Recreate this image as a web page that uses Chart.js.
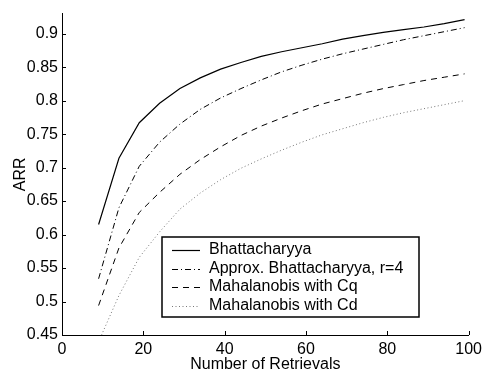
<!DOCTYPE html>
<html>
<head>
<meta charset="utf-8">
<script src="https://cdn.jsdelivr.net/npm/chart.js@4/dist/chart.umd.min.js"></script>
<style>
    body { margin: 0; background: #fff; }
    canvas { display: block; }
</style>
</head>
<body>
<canvas id="arrChart" width="487" height="374"></canvas>
<script>
// 检索数量
const retrievals = [9, 14, 19, 24, 29, 34, 39, 44, 49, 54, 59, 64, 69, 74, 79, 84, 89, 94, 99];

// 各方法的 ARR 值
const bhattacharyya = [0.615, 0.714, 0.767, 0.796, 0.818, 0.834, 0.847, 0.857, 0.866, 0.873, 0.879, 0.885, 0.892, 0.897, 0.902, 0.906, 0.910, 0.915, 0.921];
const approxBhatt = [0.534, 0.640, 0.702, 0.738, 0.765, 0.787, 0.804, 0.818, 0.831, 0.843, 0.853, 0.862, 0.870, 0.877, 0.884, 0.891, 0.897, 0.903, 0.909];
const mahalanobisCq = [0.494, 0.580, 0.633, 0.663, 0.690, 0.712, 0.731, 0.748, 0.762, 0.774, 0.785, 0.795, 0.803, 0.811, 0.818, 0.824, 0.830, 0.835, 0.840];
const mahalanobisCd = [0.440, 0.509, 0.566, 0.604, 0.638, 0.662, 0.682, 0.699, 0.713, 0.726, 0.738, 0.749, 0.758, 0.767, 0.775, 0.782, 0.788, 0.794, 0.800];

// 刻度
const xTicks = [0, 20, 40, 60, 80, 100];
const yTicks = [0.45, 0.5, 0.55, 0.6, 0.65, 0.7, 0.75, 0.8, 0.85, 0.9];

const FONT = "'Liberation Sans', Arial, Helvetica, sans-serif";

function toPoints(values) {
    return retrievals.map((x, i) => ({ x: x, y: values[i] }));
}

// 向内的刻度线
const innerTicks = {
    id: 'innerTicks',
    afterDraw(chart) {
        const ctx = chart.ctx;
        const { left, bottom } = chart.chartArea;
        const xs = chart.scales.x, ys = chart.scales.y;
        ctx.save();
        ctx.strokeStyle = '#000';
        ctx.lineWidth = 1;
        ctx.beginPath();
        xTicks.forEach(v => {
            const px = Math.round(xs.getPixelForValue(v)) + 0.5;
            ctx.moveTo(px, bottom);
            ctx.lineTo(px, bottom - 4);
        });
        yTicks.forEach(v => {
            const py = Math.round(ys.getPixelForValue(v)) + 0.5;
            ctx.moveTo(left, py);
            ctx.lineTo(left + 4, py);
        });
        ctx.stroke();
        ctx.restore();
    }
};

// 图例框（MATLAB 风格）
const boxLegend = {
    id: 'boxLegend',
    afterDraw(chart) {
        const ctx = chart.ctx;
        const bx = 162, by = 237, bw = 257, bh = 80;
        ctx.save();
        ctx.fillStyle = '#fff';
        ctx.fillRect(bx, by, bw, bh);
        ctx.strokeStyle = '#000';
        ctx.lineWidth = 1.5;
        ctx.strokeRect(bx, by, bw, bh);
        ctx.font = '16px ' + FONT;
        ctx.textBaseline = 'middle';
        chart.data.datasets.forEach((ds, i) => {
            const y = by + 13 + i * 18.5;
            ctx.strokeStyle = ds.borderColor;
            ctx.lineWidth = ds.borderWidth;
            ctx.setLineDash(ds.borderDash || []);
            ctx.beginPath();
            ctx.moveTo(172, Math.round(y) + 0.5);
            ctx.lineTo(200, Math.round(y) + 0.5);
            ctx.stroke();
            ctx.setLineDash([]);
            ctx.fillStyle = '#000';
            ctx.fillText(ds.label, 209, y);
        });
        ctx.restore();
    }
};

function drawChart() {
    const ctx = document.getElementById('arrChart').getContext('2d');
    const lineStyle = { borderWidth: 1, pointRadius: 0, tension: 0, fill: false };
    new Chart(ctx, {
        type: 'line',
        data: {
            datasets: [
                { ...lineStyle, label: 'Bhattacharyya', data: toPoints(bhattacharyya), borderColor: '#000', borderWidth: 1.2 },
                { ...lineStyle, label: 'Approx. Bhattacharyya, r=4', data: toPoints(approxBhatt), borderColor: '#000', borderDash: [6, 3, 1, 3] },
                { ...lineStyle, label: 'Mahalanobis with Cq', data: toPoints(mahalanobisCq), borderColor: '#000', borderDash: [6, 5] },
                { ...lineStyle, label: 'Mahalanobis with Cd', data: toPoints(mahalanobisCd), borderColor: '#777', borderDash: [1, 2.5] }
            ]
        },
        options: {
            responsive: false,
            animation: false,
            devicePixelRatio: 1,
            layout: { padding: { top: 11, right: 14, left: 0, bottom: 0 } },
            plugins: {
                legend: { display: false },
                tooltip: { enabled: false }
            },
            scales: {
                x: {
                    type: 'linear',
                    min: 0,
                    max: 100,
                    afterBuildTicks: scale => { scale.ticks = xTicks.map(v => ({ value: v })); },
                    afterFit: scale => { scale.height = 39; },
                    grid: { display: false, drawTicks: false },
                    border: { display: true, color: '#000', width: 1 },
                    ticks: {
                        color: '#000',
                        padding: 5,
                        maxRotation: 0,
                        font: { family: FONT, size: 16 },
                        callback: v => String(v)
                    },
                    title: {
                        display: true,
                        text: 'Number of Retrievals',
                        color: '#000',
                        padding: { top: 0, bottom: 0 },
                        font: { family: FONT, size: 16 }
                    }
                },
                y: {
                    type: 'linear',
                    min: 0.45,
                    max: 0.93,
                    afterBuildTicks: scale => { scale.ticks = yTicks.map(v => ({ value: v })); },
                    afterFit: scale => { scale.width = 62; },
                    grid: { display: false, drawTicks: false },
                    border: { display: true, color: '#000', width: 1 },
                    ticks: {
                        color: '#000',
                        padding: 4,
                        font: { family: FONT, size: 16 },
                        callback: v => String(Number(v.toFixed(2)))
                    },
                    title: {
                        display: true,
                        text: 'ARR',
                        color: '#000',
                        padding: { top: 11, bottom: 0 },
                        font: { family: FONT, size: 16 }
                    }
                }
            }
        },
        plugins: [innerTicks, boxLegend]
    });
}

document.addEventListener('DOMContentLoaded', drawChart);
</script>
</body>
</html>
